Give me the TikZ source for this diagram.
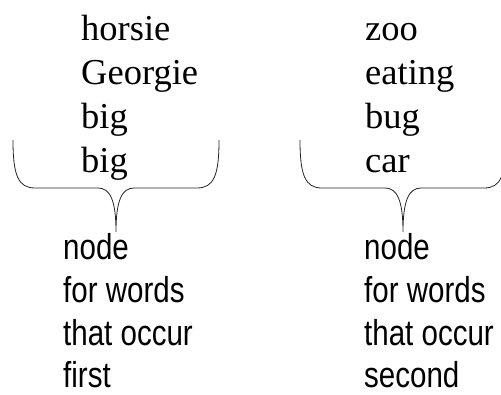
\documentclass[tikz,border=0pt]{standalone}
\usepackage{fontspec}
\setmainfont{Liberation Serif}
\newfontfamily\narrowsans[FakeStretch=0.82]{Liberation Sans}
\begin{document}
\begin{tikzpicture}[x=1pt,y=-1pt,
  word/.style={inner sep=0pt,anchor=base west,font=\fontsize{36.5}{40}\selectfont},
  label/.style={inner sep=0pt,anchor=base west,font=\narrowsans\fontsize{36}{40}\selectfont},
  brace line/.style={draw=black!85,line width=0.8pt},
  pics/underbrace/.style={code={
    \draw[brace line] (-103,-92) .. controls (-103,-57) and (-98,-44) .. (-81,-44)
      -- (-18,-44) .. controls (-6,-44) and (0,-32) .. (0,0)
      .. controls (0,-32) and (6,-44) .. (18,-44)
      -- (81,-44) .. controls (98,-44) and (103,-57) .. (103,-92);
  }}]
  \clip (0,0) rectangle (501,394);

  % words of the first group
  \node[word] (l1) at (81,40)  {horsie};
  \node[word] (l2) at (81,84)  {Georgie};
  \node[word] (l3) at (81,128) {big};
  \node[word] (l4) at (81,172) {big};

  % words of the second group
  \node[word] (r1) at (365,40)  {zoo};
  \node[word] (r2) at (365,84)  {eating};
  \node[word] (r3) at (365,128) {bug};
  \node[word] (r4) at (365,172) {car};

  % braces gathering each group
  \coordinate (ltip) at (116,232);
  \coordinate (rtip) at (403,232);
  \pic at (ltip) {underbrace};
  \pic at (rtip) {underbrace};

  % descriptions below the braces
  \node[label] (la) at (63,259)  {node};
  \node[label] (lb) at (63,302)  {for words};
  \node[label] (lc) at (63,345)  {that occur};
  \node[label] (ld) at (63,387)  {first};

  \node[label] (ra) at (364,259) {node};
  \node[label] (rb) at (364,302) {for words};
  \node[label] (rc) at (364,345) {that occur};
  \node[label] (rd) at (364,387) {second};
\end{tikzpicture}
\end{document}
